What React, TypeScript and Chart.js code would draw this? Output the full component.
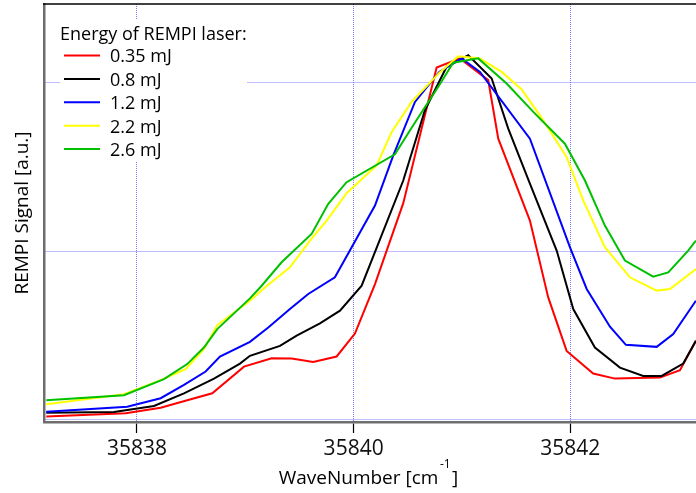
import React, { useEffect, useRef } from 'react';
import { Chart, registerables } from 'chart.js';

Chart.register(...registerables);

const legendTitle = 'Energy of REMPI laser:';
const seriesLabels = ['0.35 mJ', '0.8 mJ', '1.2 mJ', '2.2 mJ', '2.6 mJ'];
const seriesColors = ['#ff0000', '#000000', '#0000ff', '#ffff00', '#00c000'];
const xTickValues = [35838, 35840, 35842];
const yGridValues = [0, 1, 2];
const xTitleMain = 'WaveNumber [cm';
const xTitleSup = '-1';
const xTitleEnd = ']';
const yTitle = 'REMPI Signal [a.u.]';

const wn035 = [35837.163, 35837.896, 35838.219, 35838.464, 35838.695, 35838.988, 35839.243, 35839.428, 35839.627, 35839.843, 35840.012, 35840.197, 35840.458, 35840.766, 35840.981, 35841.242, 35841.335, 35841.627, 35841.796, 35841.966, 35842.211, 35842.412, 35842.827, 35843.012, 35843.159];
const sig035 = [0.020, 0.040, 0.073, 0.117, 0.158, 0.316, 0.366, 0.364, 0.344, 0.376, 0.512, 0.805, 1.284, 2.087, 2.141, 2.012, 1.666, 1.181, 0.726, 0.409, 0.275, 0.245, 0.251, 0.295, 0.469];

const wn08 = [35837.163, 35837.788, 35838.157, 35838.434, 35838.711, 35838.951, 35839.043, 35839.320, 35839.474, 35839.689, 35839.874, 35840.074, 35840.458, 35840.658, 35840.858, 35841.058, 35841.274, 35841.427, 35841.627, 35841.874, 35842.027, 35842.227, 35842.458, 35842.673, 35842.843, 35843.042, 35843.159];
const sig08 = [0.043, 0.047, 0.083, 0.158, 0.245, 0.334, 0.380, 0.439, 0.499, 0.572, 0.647, 0.795, 1.418, 1.834, 2.091, 2.160, 2.022, 1.725, 1.399, 1.003, 0.657, 0.429, 0.310, 0.261, 0.261, 0.334, 0.469];

const wn12 = [35837.163, 35837.910, 35838.219, 35838.434, 35838.634, 35838.766, 35839.043, 35839.212, 35839.412, 35839.581, 35839.827, 35839.982, 35840.197, 35840.366, 35840.566, 35840.790, 35840.997, 35841.166, 35841.627, 35841.996, 35842.151, 35842.366, 35842.513, 35842.797, 35842.950, 35843.159];
const sig12 = [0.049, 0.079, 0.129, 0.208, 0.287, 0.376, 0.463, 0.548, 0.657, 0.746, 0.845, 1.023, 1.270, 1.567, 1.883, 2.061, 2.141, 2.061, 1.666, 1.023, 0.776, 0.552, 0.445, 0.433, 0.509, 0.706];

const wn22 = [35837.163, 35837.880, 35838.219, 35838.449, 35838.618, 35838.741, 35839.043, 35839.181, 35839.412, 35839.597, 35839.751, 35839.935, 35840.212, 35840.351, 35840.535, 35840.790, 35840.965, 35841.166, 35841.366, 35841.551, 35841.719, 35841.966, 35842.119, 35842.319, 35842.550, 35842.797, 35842.920, 35843.159];
const sig22 = [0.093, 0.153, 0.236, 0.301, 0.420, 0.562, 0.706, 0.785, 0.904, 1.062, 1.181, 1.343, 1.507, 1.705, 1.883, 2.055, 2.154, 2.141, 2.061, 1.957, 1.804, 1.557, 1.300, 1.023, 0.845, 0.766, 0.776, 0.894];

const wn26 = [35837.163, 35837.880, 35838.249, 35838.464, 35838.618, 35838.741, 35839.043, 35839.151, 35839.335, 35839.612, 35839.766, 35839.935, 35840.381, 35840.550, 35840.790, 35840.919, 35841.150, 35841.412, 35841.658, 35841.950, 35842.135, 35842.319, 35842.504, 35842.765, 35842.904, 35843.088, 35843.159];
const sig26 = [0.117, 0.147, 0.242, 0.331, 0.429, 0.538, 0.720, 0.795, 0.934, 1.102, 1.280, 1.408, 1.573, 1.745, 1.982, 2.115, 2.141, 1.992, 1.824, 1.636, 1.418, 1.151, 0.944, 0.849, 0.874, 1.003, 1.062];

const seriesX = [wn035, wn08, wn12, wn22, wn26];
const seriesY = [sig035, sig08, sig12, sig22, sig26];

const FONT = '"Open Sans", "Noto Sans", sans-serif';

const decorPlugin = {
  id: 'decor',
  afterDraw(chart: any) {
    const { ctx, chartArea } = chart;
    const { left, top, right, bottom } = chartArea;
    ctx.save();
    // top frame line
    ctx.strokeStyle = '#000';
    ctx.lineWidth = 1.5;
    ctx.beginPath();
    ctx.moveTo(left - 1, top);
    ctx.lineTo(right, top);
    ctx.stroke();

    // legend box
    ctx.fillStyle = '#ffffff';
    ctx.fillRect(left + 16, top + 16, 187, 141);
    ctx.fillStyle = '#000';
    ctx.font = `18px ${FONT}`;
    ctx.textAlign = 'left';
    ctx.textBaseline = 'alphabetic';
    ctx.fillText(legendTitle, left + 16, top + 35.5);
    for (let i = 0; i < seriesLabels.length; i++) {
      const cy = top + 51.5 + i * 23.4;
      ctx.strokeStyle = seriesColors[i];
      ctx.lineWidth = 2;
      ctx.beginPath();
      ctx.moveTo(left + 20, cy);
      ctx.lineTo(left + 56, cy);
      ctx.stroke();
      ctx.fillStyle = '#000';
      ctx.fillText(seriesLabels[i], left + 66, cy + 6.8);
    }

    // x title with superscript
    const cx = (left + right) / 2 - 1.5;
    ctx.font = `19px ${FONT}`;
    const w1 = ctx.measureText(xTitleMain).width;
    const w3 = ctx.measureText(xTitleEnd).width;
    ctx.font = `12px ${FONT}`;
    const w2 = ctx.measureText(xTitleSup).width;
    const gap = 1.5;
    const total = w1 + w2 + w3 + gap * 2;
    const x0 = cx - total / 2;
    const base = bottom + 62;
    ctx.fillStyle = '#000';
    ctx.font = `19px ${FONT}`;
    ctx.fillText(xTitleMain, x0, base);
    ctx.font = `12px ${FONT}`;
    ctx.fillText(xTitleSup, x0 + w1 + gap, base - 16);
    ctx.font = `19px ${FONT}`;
    ctx.fillText(xTitleEnd, x0 + w1 + w2 + gap * 2, base);

    // y title rotated
    ctx.translate(27.5, (top + bottom) / 2);
    ctx.rotate(-Math.PI / 2);
    ctx.font = `19px ${FONT}`;
    ctx.textAlign = 'center';
    ctx.fillText(yTitle, 0, 0);
    ctx.restore();
  },
};

export default function App() {
  const canvasRef = useRef<HTMLCanvasElement | null>(null);

  useEffect(() => {
    if (!canvasRef.current) return;
    const datasets = seriesLabels.map((label, i) => ({
      label,
      data: seriesX[i].map((x, j) => ({ x, y: seriesY[i][j] })),
      borderColor: seriesColors[i],
      backgroundColor: seriesColors[i],
      borderWidth: 2,
      pointRadius: 0,
      tension: 0,
      fill: false,
      order: seriesLabels.length - i,
    }));
    const chart = new Chart(canvasRef.current, {
      type: 'line',
      data: { datasets },
      options: {
        animation: false,
        responsive: true,
        maintainAspectRatio: false,
        layout: { padding: { left: 44, top: 4, right: 0, bottom: 28.8 } },
        plugins: {
          legend: { display: false },
          tooltip: { enabled: false },
        },
        scales: {
          x: {
            type: 'linear',
            min: 35837.142,
            max: 35843.16,
            afterBuildTicks: (scale: any) => {
              scale.ticks = xTickValues.map((v) => ({ value: v }));
            },
            grid: {
              color: 'rgba(110,110,255,0.9)',
              lineWidth: 1,
              drawTicks: true,
              tickLength: 11,
              tickColor: '#000',
              tickWidth: 1.2,
            },
            border: { display: true, color: '#6e6e6e', width: 2.5, dash: [1, 1] },
            ticks: {
              color: '#111',
              font: { family: FONT, size: 21 },
              padding: 3,
              maxRotation: 0,
              callback: (v: any) => String(v),
            },
          },
          y: {
            type: 'linear',
            min: -0.0119,
            max: 2.463,
            afterBuildTicks: (scale: any) => {
              scale.ticks = yGridValues.map((v) => ({ value: v }));
            },
            grid: {
              color: 'rgba(110,110,255,0.9)',
              lineWidth: 1,
              drawTicks: false,
            },
            border: { display: true, color: '#6e6e6e', width: 2.5, dash: [1, 1] },
            ticks: { display: false },
          },
        },
      },
      plugins: [decorPlugin],
    });
    return () => chart.destroy();
  }, []);

  return (
    <div style={{ position: 'fixed', left: 0, top: 0, width: 696, height: 493, background: '#fff' }}>
      <canvas ref={canvasRef} />
    </div>
  );
}
